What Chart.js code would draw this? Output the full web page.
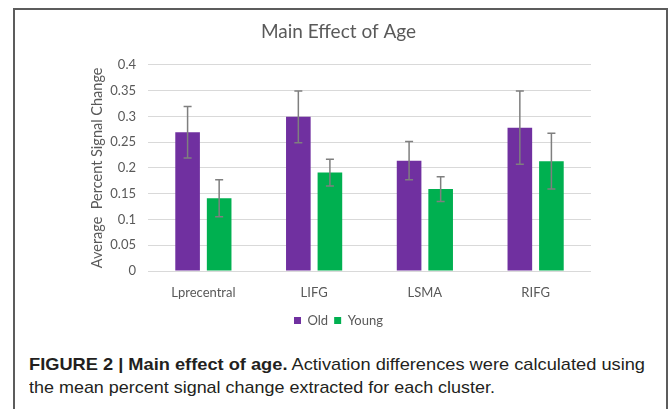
<!DOCTYPE html>
<html>
<head>
<meta charset="utf-8">
<script src="https://cdn.jsdelivr.net/npm/chart.js@4.4.1/dist/chart.umd.min.js"></script>
<style>
  html, body { margin: 0; padding: 0; background: #ffffff; }
  body { width: 669px; height: 409px; position: relative; overflow: hidden; }
  #frame { position: absolute; left: 13px; top: 8px; width: 655px; height: 440px; box-sizing: border-box; border: 2px solid #5c5c5c; }
  #wrap { position: absolute; left: 0; top: 0; width: 669px; height: 340px; }
  #caption { position: absolute; left: 29px; top: 353px; font-family: "Liberation Sans", Arial, sans-serif; font-size: 17px; line-height: 23px; color: #231f20; white-space: nowrap; }
  #caption .ln { display: inline-block; transform-origin: 0 0; }
  #caption b { font-weight: bold; }
</style>
</head>
<body>
<div id="frame"></div>
<div id="wrap"><canvas id="c" width="669" height="340"></canvas></div>
<div id="caption">
  <span class="ln" id="l1"><b>FIGURE 2 | Main effect of age.</b> Activation differences were calculated using</span><br>
  <span class="ln" id="l2">the mean percent signal change extracted for each cluster.</span>
</div>
<script>
const categories = ['Lprecentral', 'LIFG', 'LSMA', 'RIFG'];
const oldValues = [0.269, 0.299, 0.214, 0.278];
const youngValues = [0.141, 0.191, 0.159, 0.213];
const oldErrors = [0.050, 0.050, 0.037, 0.071];
const youngErrors = [0.036, 0.026, 0.024, 0.054];
const yTickLabels = ['0', '0.05', '0.1', '0.15', '0.2', '0.25', '0.3', '0.35', '0.4'];
const seriesNames = ['Old', 'Young'];

const errorBarPlugin = {
  id: 'errorBars',
  afterDatasetsDraw(chart) {
    const ctx = chart.ctx;
    const yScale = chart.scales.y;
    chart.data.datasets.forEach((ds, di) => {
      const meta = chart.getDatasetMeta(di);
      const errs = ds.errors;
      meta.data.forEach((bar, i) => {
        const v = ds.data[i];
        const e = errs[i];
        const x = bar.x;
        const yt = yScale.getPixelForValue(v + e);
        const yb = yScale.getPixelForValue(v - e);
        ctx.save();
        ctx.strokeStyle = '#7f7f7f';
        ctx.lineWidth = 1.5;
        ctx.beginPath();
        ctx.moveTo(x, yt); ctx.lineTo(x, yb);
        ctx.moveTo(x - 4, yt); ctx.lineTo(x + 4, yt);
        ctx.moveTo(x - 4, yb); ctx.lineTo(x + 4, yb);
        ctx.stroke();
        ctx.restore();
      });
    });
  }
};

const textColor = '#595959';
const fontFam = 'Lato, "Open Sans", sans-serif';

new Chart(document.getElementById('c'), {
  type: 'bar',
  data: {
    labels: categories,
    datasets: [
      { label: seriesNames[0], data: oldValues, errors: oldErrors, backgroundColor: '#7030a0', borderWidth: 0 },
      { label: seriesNames[1], data: youngValues, errors: youngErrors, backgroundColor: '#00b050', borderWidth: 0 }
    ]
  },
  options: {
    responsive: false,
    animation: false,
    devicePixelRatio: 1,
    categoryPercentage: 0.57,
    barPercentage: 0.78,
    layout: { padding: { left: 86, right: 78, top: 0, bottom: 3 } },
    plugins: {
      title: {
        display: true,
        text: 'Main Effect of Age',
        color: textColor,
        font: { family: fontFam, size: 19, weight: 'normal' },
        padding: { top: 20, bottom: 22 }
      },
      legend: {
        display: true,
        position: 'bottom',
        labels: {
          color: textColor,
          font: { family: fontFam, size: 13 },
          boxWidth: 7,
          boxHeight: 7,
          padding: 6
        }
      },
      tooltip: { enabled: false }
    },
    scales: {
      x: {
        grid: { display: false, drawTicks: false },
        border: { display: false },
        ticks: { color: textColor, font: { family: fontFam, size: 13 }, padding: 14 },
        afterFit(s) { s.height = 37; }
      },
      y: {
        min: 0,
        max: 0.4,
        grid: { color: '#d9d9d9', lineWidth: 1, drawTicks: false },
        border: { display: false },
        ticks: {
          stepSize: 0.05,
          color: textColor,
          font: { family: fontFam, size: 13 },
          padding: 12,
          callback: (v, i) => yTickLabels[i]
        },
        title: {
          display: true,
          text: 'Average  Percent Signal Change',
          color: textColor,
          font: { family: fontFam, size: 14.5 },
          padding: { top: 3, bottom: 4 }
        },
        afterFit(s) { s.width = 62; }
      }
    }
  },
  plugins: [errorBarPlugin]
});

function fitLine(id, target) {
  const el = document.getElementById(id);
  const w = el.getBoundingClientRect().width;
  el.style.transform = 'scaleX(' + (target / w) + ')';
}
fitLine('l1', 616);
fitLine('l2', 466);
</script>
</body>
</html>
